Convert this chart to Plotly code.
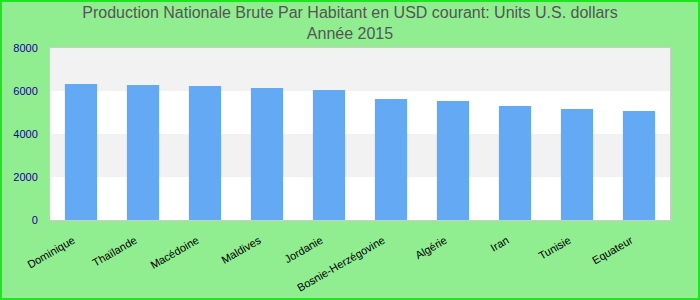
import plotly.graph_objects as go

countries = ["Dominique", "Thaïlande", "Macédoine", "Maldives", "Jordanie",
             "Bosnie-Herzégovine", "Algérie", "Iran", "Tunisie", "Equateur"]
values = [6330, 6280, 6230, 6140, 6050, 5630, 5535, 5300, 5165, 5070]
band_edges = [(2000, 4000), (6000, 8000)]

L, R, T, B = 50, 30, 48, 80
W, H = 700, 300
pw, ph = W - L - R, H - T - B

fig = go.Figure(go.Bar(x=countries, y=values, marker_color="#63a9f3",
                       marker_line_width=0, width=0.52))

shapes = []
for y0, y1 in band_edges:
    shapes.append(dict(type="rect", xref="paper", yref="y", x0=0, x1=1, y0=y0, y1=y1,
                       fillcolor="#f2f2f2", line_width=0, layer="below"))
shapes.append(dict(type="rect", xref="paper", yref="paper",
                   x0=-(L - 1) / pw, x1=1 + (R - 1) / pw,
                   y0=-(B - 1) / ph, y1=1 + (T - 1) / ph,
                   line=dict(color="#1ee61e", width=2), fillcolor="rgba(0,0,0,0)"))

fig.update_layout(
    width=W, height=H,
    margin=dict(l=L, r=R, t=T, b=B, autoexpand=False),
    paper_bgcolor="#90ee90", plot_bgcolor="white",
    title=dict(text="Production Nationale Brute Par Habitant en USD courant: Units U.S. dollars<br>Année 2015",
               x=0.5, xanchor="center", y=0.94, yanchor="top",
               font=dict(family="Liberation Sans, Arial", size=16, color="#555555")),
    shapes=shapes,
    showlegend=False,
    bargap=0.48,
)
fig.update_xaxes(tickangle=-30, tickfont=dict(family="Liberation Sans, Arial", size=11, color="black"),
                 showline=True, linecolor="#cccccc", mirror=True, showgrid=False, ticks="",
                 ticklabelstandoff=9, ticklabelshift=-8, automargin=False)
fig.update_yaxes(range=[0, 8000], dtick=2000, showgrid=False, zeroline=False,
                 tickfont=dict(family="Liberation Sans, Arial", size=11, color="#0a0a8c"),
                 showline=True, linecolor="#cccccc", mirror=True, ticks="",
                 ticklabelstandoff=9, automargin=False)

fig.write_html("out.html")
